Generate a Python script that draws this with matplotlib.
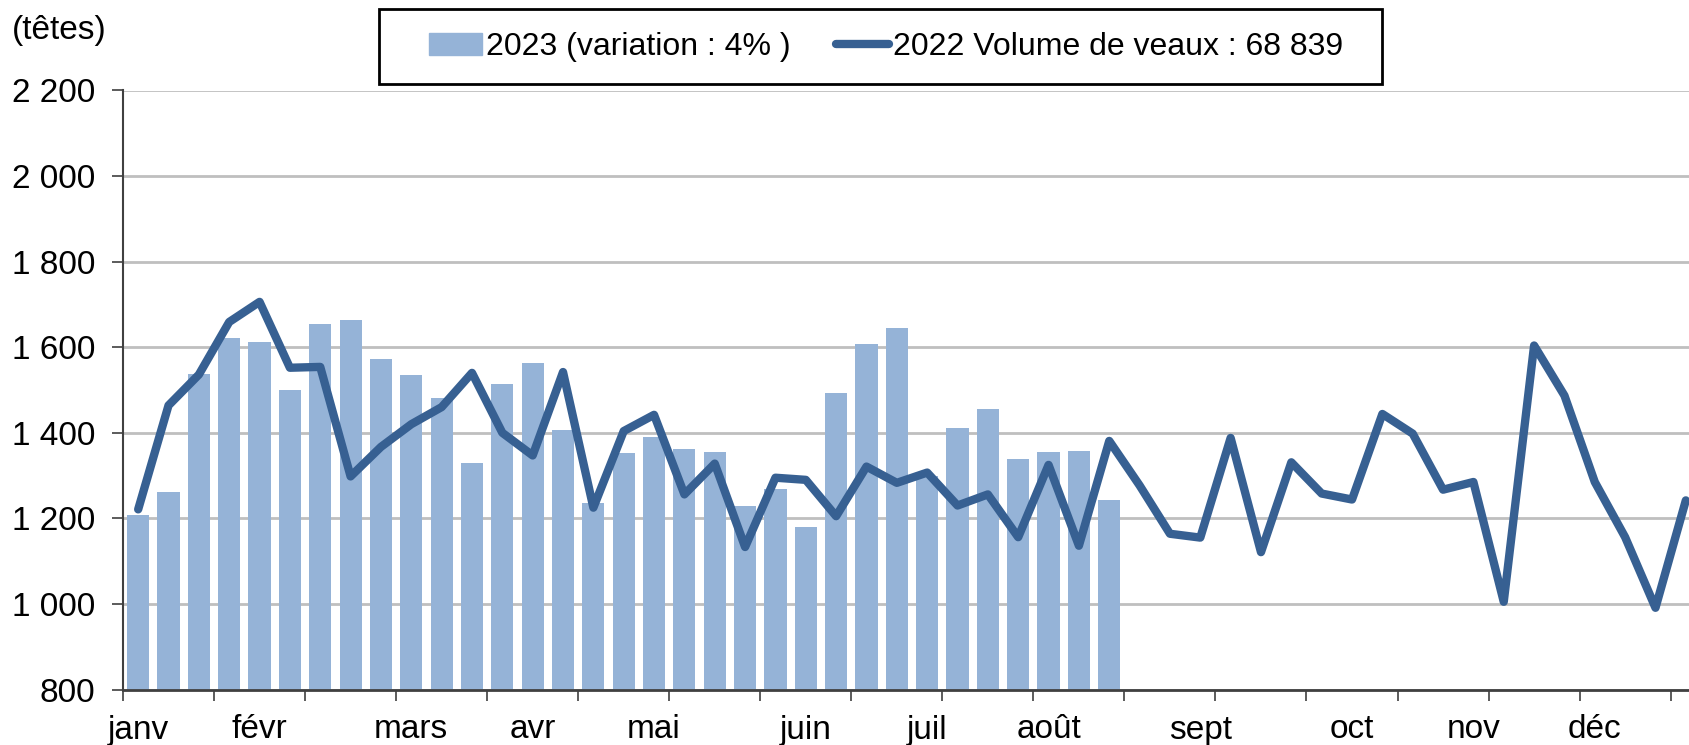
import matplotlib
matplotlib.use('Agg')
import matplotlib.pyplot as plt
from matplotlib.lines import Line2D
from matplotlib.patches import Patch, Rectangle
from matplotlib.ticker import FuncFormatter

plt.rcParams['font.family'] = ['Liberation Sans', 'DejaVu Sans']

# weekly volumes (têtes)
vol_2023 = [1209, 1261, 1538, 1621, 1613, 1501, 1654, 1663, 1572, 1535, 1482,
            1329, 1515, 1562, 1406, 1237, 1352, 1390, 1361, 1355, 1228, 1268,
            1180, 1493, 1608, 1645, 1300, 1411, 1455, 1339, 1354, 1358, 1244]
vol_2022 = [1221, 1464, 1536, 1659, 1706, 1552, 1554, 1298, 1367, 1420, 1460,
            1540, 1400, 1347, 1542, 1225, 1404, 1442, 1256, 1328, 1133, 1295,
            1290, 1205, 1321, 1283, 1307, 1230, 1256, 1156, 1325, 1136, 1381,
            1277, 1164, 1155, 1388, 1121, 1331, 1258, 1244, 1444, 1398, 1267,
            1285, 1005, 1604, 1487, 1285, 1156, 991, 1242]
months = ['janv', 'févr', 'mars', 'avr', 'mai', 'juin', 'juil', 'août',
          'sept', 'oct', 'nov', 'déc']
month_weeks = [0, 4, 9, 13, 17, 22, 26, 30, 35, 40, 44, 48]

bar_color = '#95B3D7'
line_color = '#376092'
fs = 24

fig = plt.figure(figsize=(16.9, 7.45), dpi=100)
ax = fig.add_axes([123 / 1690, 55.5 / 745, 1578 / 1690, 599 / 745])

ax.bar(range(len(vol_2023)), vol_2023, width=0.73, color=bar_color, zorder=2)
ax.plot(range(len(vol_2022)), vol_2022, color=line_color, lw=6,
        solid_joinstyle='round', solid_capstyle='round', zorder=3)

ax.set_ylim(800, 2200)
ax.set_yticks(range(800, 2201, 200))
ax.yaxis.set_major_formatter(FuncFormatter(lambda v, p: f'{int(v):,}'.replace(',', ' ')))
ax.grid(axis='y', color='#BFBFBF', lw=2, zorder=0)
ax.set_axisbelow(True)

ax.set_xlim(-0.5, 51.5)
ax.set_xticks(month_weeks)
ax.set_xticklabels(months)
ax.set_xticks([i - 0.5 for i in range(0, 52, 3)], minor=True)
ax.tick_params(axis='x', which='major', length=0, pad=18, labelsize=fs)
ax.tick_params(axis='x', which='minor', length=8, width=1.2, color='#404040', direction='out')
ax.tick_params(axis='y', length=8, width=1.2, color='#404040', pad=12, labelsize=fs)

for s in ['top', 'right']:
    ax.spines[s].set_visible(False)
ax.spines['left'].set_color('#404040')
ax.spines['left'].set_linewidth(1.5)
ax.spines['bottom'].set_color('#404040')
ax.spines['bottom'].set_linewidth(2)

fig.text(12 / 1690, 1 - 31 / 745, '(têtes)', fontsize=fs, va='center', ha='left')

# legend box drawn separately
fig.add_artist(Rectangle((379 / 1690, 1 - 84 / 745), 1003 / 1690, 75 / 745,
                         transform=fig.transFigure, fill=False,
                         edgecolor='black', lw=2))
handles = [Patch(color=bar_color), Line2D([0], [0], color=line_color, lw=6, solid_capstyle='round')]
labels = ['2023 (variation : 4% )', '2022 Volume de veaux : 68 839']
fig.legend(handles, labels, ncol=2, loc='center left',
           bbox_to_anchor=(429 / 1690, 1 - 47 / 745), fontsize=23,
           frameon=False, borderpad=0, borderaxespad=0,
           handlelength=1.65, handletextpad=0.15, columnspacing=1.4)

fig.savefig('out.png', dpi=100)
